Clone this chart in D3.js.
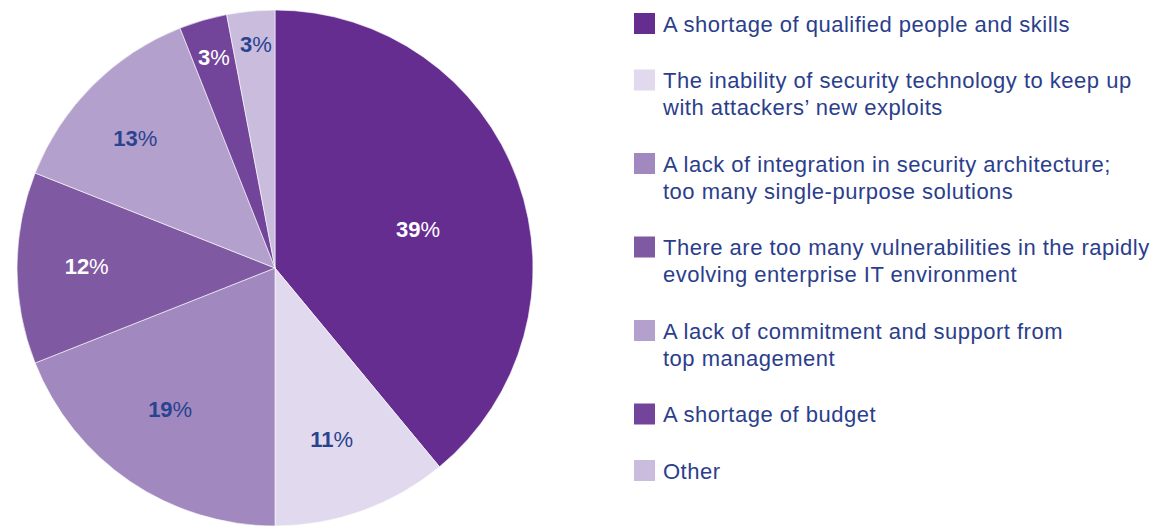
<!DOCTYPE html>
<html><head><meta charset="utf-8">
<script src="https://cdn.jsdelivr.net/npm/d3@7"></script>
<style>body{margin:0;background:#fff;}svg{display:block;}</style>
</head><body>
<svg id="chart" width="1153" height="527"></svg>
<script>
const categories = [
  ["A shortage of qualified people and skills"],
  ["The inability of security technology to keep up", "with attackers\u2019 new exploits"],
  ["A lack of integration in security architecture;", "too many single-purpose solutions"],
  ["There are too many vulnerabilities in the rapidly", "evolving enterprise IT environment"],
  ["A lack of commitment and support from", "top management"],
  ["A shortage of budget"],
  ["Other"]
];
const values = [39, 11, 19, 12, 13, 3, 3];
const colors = ["#662d91", "#e1d9ed", "#a188be", "#8059a3", "#b4a0cc", "#72459b", "#c9bcdd"];
const labelColors = ["#ffffff", "#2a4390", "#2a4390", "#ffffff", "#2a4390", "#ffffff", "#2a4390"];

const svg = d3.select("#chart");
const cx = 275, cy = 268, R = 258;
const pie = d3.pie().sort(null).value(d => d)(values);
const arc = d3.arc().innerRadius(0).outerRadius(R);
const g = svg.append("g").attr("transform", `translate(${cx},${cy})`);
g.selectAll("path").data(pie).join("path")
  .attr("d", arc).attr("fill", (d, i) => colors[i])
  .attr("stroke", "#fff").attr("stroke-width", 0.6);

const labelR = [0.575, 0.7, 0.68, 0.73, 0.74, 0.85, 0.87];
const labelA = [4.5, 1.5, 2.5, 0.5, -2, 0, 0.5];
const txt = g.selectAll("text.lbl").data(pie).join("text")
  .attr("class", "lbl")
  .attr("transform", (d, i) => {
    const a = (d.startAngle + d.endAngle) / 2 + labelA[i] * Math.PI / 180;
    const r = R * labelR[i];
    return `translate(${r * Math.sin(a)},${-r * Math.cos(a)})`;
  })
  .attr("text-anchor", "middle").attr("dy", "0.36em")
  .attr("font-family", "'Liberation Sans', Arial, sans-serif")
  .attr("font-size", 22)
  .attr("fill", (d, i) => labelColors[i]);
txt.append("tspan").attr("font-weight", "bold").text(d => d.data);
txt.append("tspan").text("%");

const lx = 634, tx = 663;
let y = 13;
const lg = svg.append("g");
categories.forEach((lines, i) => {
  lg.append("rect").attr("x", lx).attr("y", y).attr("width", 21).attr("height", 21).attr("fill", colors[i]);
  const t = lg.append("text").attr("font-family", "'Liberation Sans', Arial, sans-serif")
    .attr("font-size", 22).attr("letter-spacing", 0.5).attr("fill", "#2b3e8c");
  lines.forEach((ln, j) => {
    t.append("tspan").attr("x", tx).attr("y", y + 18.5 + j * 27).text(ln);
  });
  y += lines.length * 27 + 29.5;
});
</script>
</body></html>
